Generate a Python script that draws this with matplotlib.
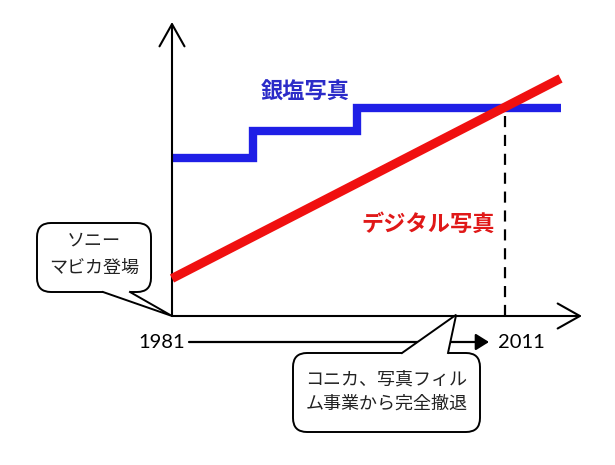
import matplotlib
matplotlib.use('Agg')
import matplotlib.pyplot as plt
from matplotlib.patches import FancyBboxPatch, Polygon

# timeline (years) and illustrative market levels
start_year = 1981
end_year = 2011
konica_year = 2006.6

film_years = [1981, 1988.3, 1997.7, 2016]
film_share = [63, 74, 83, 83]

digital_years = [1981, 2016]
digital_share = [15, 95]

film_label = '銀塩写真'
digital_label = 'デジタル写真'
sony_text = ['ソニー', 'マビカ登場']
konica_text = ['コニカ、写真フィル', 'ム事業から完全撤退']

W, H = 615, 465
x0, y0 = 172, 316          # pixel position of the origin
px_year, px_unit = 11.1, 2.5

jp = ['Noto Sans CJK JP', 'DejaVu Sans']

fig = plt.figure(figsize=(W / 100, H / 100), dpi=100)
ax = fig.add_axes([0, 0, 1, 1])
ax.set_xlim(start_year - x0 / px_year, start_year + (W - x0) / px_year)
ax.set_ylim(-(H - y0) / px_unit, y0 / px_unit)
ax.axis('off')

# overlay in pixel units for the callouts
deco = fig.add_axes([0, 0, 1, 1], zorder=5)
deco.set_xlim(0, W)
deco.set_ylim(H, 0)
deco.axis('off')
deco.patch.set_alpha(0)


def to_px(yr, v):
        return x0 + (yr - start_year) * px_year, y0 - v * px_unit


# series
ax.plot(film_years, film_share, drawstyle='steps-post', color='#1f1fe6',
        lw=6, solid_joinstyle='miter', solid_capstyle='butt', zorder=3)
ax.plot(digital_years, digital_share, color='#f01010', lw=6.5,
        solid_capstyle='butt', zorder=4)

# axes arrows
ymax = (y0 - 22) / px_unit
xmax = start_year + (582 - x0) / px_year
arr = dict(arrowstyle='->,head_length=0.8,head_width=0.45', color='black',
           lw=1.5, shrinkA=0, shrinkB=0, mutation_scale=20)
ax.annotate('', xy=(start_year, ymax), xytext=(start_year, 0), arrowprops=arr)
ax.annotate('', xy=(xmax, 0), xytext=(start_year, 0), arrowprops=arr)

# dashed marker at 2011
ax.plot([end_year, end_year], [0, film_share[-1]], color='black', lw=1.6,
        ls=(0, (5, 3.5)), zorder=2)

# year labels and arrow
deco.text(162, 342, str(start_year), ha='center', va='center', fontsize=14.5,
          family=['Lato', 'DejaVu Sans'])
deco.text(521, 342, str(end_year), ha='center', va='center', fontsize=14.5,
          family=['Lato', 'DejaVu Sans'])
deco.annotate('', xy=(489, 342), xytext=(189, 342),
              arrowprops=dict(arrowstyle='-|>,head_length=0.4,head_width=0.25',
                              color='black', lw=1.6, shrinkA=0, shrinkB=0,
                              mutation_scale=20))

# series labels
deco.text(305, 92, film_label, color='#2b2bc8', fontsize=16, fontweight='bold',
          ha='center', va='center', family=jp)
deco.text(428, 224, digital_label, color='#e01818', fontsize=16,
          fontweight='bold', ha='center', va='center', family=jp)


def bubble(x, y, w, h, a, b, tip, lines, ys):
        box = FancyBboxPatch((x, y), w, h, boxstyle='round,pad=0,rounding_size=14',
                             fc='white', ec='black', lw=1.4, zorder=6)
        deco.add_patch(box)
        # tail: white fill hides the box edge, then two sides
        inward = 3 if a[1] > y + h / 2 else -3
        a_in = (a[0] + 1, a[1] - inward)
        b_in = (b[0] - 1, b[1] - inward)
        deco.add_patch(Polygon([a_in, a, tip, b, b_in], closed=True,
                               fc='white', ec='none', zorder=7))
        deco.plot([a[0], tip[0], b[0]], [a[1], tip[1], b[1]], color='black',
                  lw=1.4, zorder=8, solid_joinstyle='miter')
        for txt, ty in zip(lines, ys):
                deco.text(x + w / 2, ty, txt, ha='center', va='center',
                          fontsize=13, family=jp, zorder=9, color='#222222')


bubble(37, 223, 114, 69, (103, 292), (130, 292), to_px(start_year, 0),
       sony_text, [241, 268])
bubble(293, 353, 187, 79, (402, 353), (448, 353), to_px(konica_year, 0.5),
       konica_text, [380, 404])

fig.savefig('out.png', dpi=100)
